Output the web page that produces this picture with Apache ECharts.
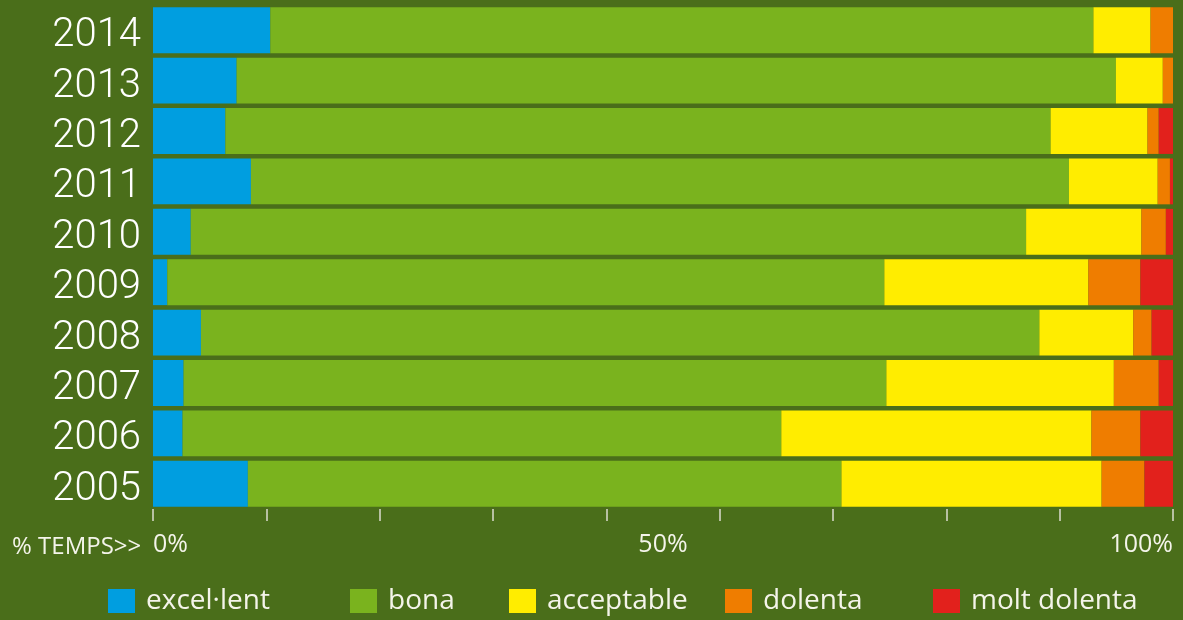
<!DOCTYPE html>
<html>
<head>
<meta charset="utf-8">
<script src="https://cdn.jsdelivr.net/npm/echarts@6/dist/echarts.min.js"></script>
<style>
  html, body { margin: 0; padding: 0; background: #4a6e1a; }
  #chart { width: 1183px; height: 620px; }
</style>
</head>
<body>
<div id="chart"></div>
<script>
// anys, de baix a dalt
const years = ['2005', '2006', '2007', '2008', '2009', '2010', '2011', '2012', '2013', '2014']

// % del temps per categoria
const excellent = [9.3, 2.9, 3.0, 4.7, 1.4, 3.7, 9.6, 7.1, 8.2, 11.5]
const bona = [58.2, 58.7, 68.9, 82.2, 70.3, 81.9, 80.2, 80.9, 86.2, 80.7]
const acceptable = [25.5, 30.4, 22.3, 9.2, 20.0, 11.3, 8.7, 9.5, 4.6, 5.6]
const dolenta = [4.2, 4.8, 4.4, 1.8, 5.1, 2.4, 1.2, 1.1, 1.0, 2.2]
const moltDolenta = [2.8, 3.2, 1.4, 2.1, 3.2, 0.7, 0.3, 1.4, 0, 0]

const seriesNames = ['excel·lent', 'bona', 'acceptable', 'dolenta', 'molt dolenta']
const seriesData = [excellent, bona, acceptable, dolenta, moltDolenta]
const colors = ['#009ee0', '#7ab31e', '#ffed00', '#ef7d00', '#e2211c']

const legendLeft = [108, 350, 509, 725, 933]

const txt = '#f4f4ea'

const chart = echarts.init(document.getElementById('chart'), null, { renderer: 'canvas' })

const option = {
  backgroundColor: '#4a6e1a',
  animation: false,
  grid: { left: 153, right: 10, top: 5, bottom: 111 },
  legend: seriesNames.map((name, i) => ({
    data: [name],
    left: legendLeft[i],
    top: 587,
    padding: 0,
    icon: 'rect',
    itemWidth: 27,
    itemHeight: 24,
    itemGap: 0,
    selectedMode: false,
    textStyle: {
      color: txt,
      fontFamily: 'Open Sans',
      fontSize: 28,
      padding: [0, 0, 0, 6]
    }
  })),
  xAxis: [
    {
      type: 'value',
      min: 0,
      max: 100,
      interval: 100 / 9,
      axisLine: { show: false },
      axisTick: { show: true, length: 12, lineStyle: { color: '#dcdcd0', width: 1.5 } },
      axisLabel: { show: false },
      splitLine: { show: false }
    },
    {
      type: 'value',
      min: 0,
      max: 100,
      interval: 50,
      position: 'bottom',
      axisLine: { show: false },
      axisTick: { show: false },
      splitLine: { show: false },
      axisLabel: {
        color: txt,
        fontFamily: 'Open Sans',
        fontSize: 25,
        margin: 23,
        alignMinLabel: 'left',
        alignMaxLabel: 'right',
        formatter: '{value}%'
      }
    }
  ],
  yAxis: {
    type: 'category',
    data: years,
    axisLine: { show: false },
    axisTick: { show: false },
    axisLabel: {
      interval: 0,
      margin: 12,
      formatter: '{y|{value}}',
      rich: {
        y: {
          color: '#ffffff',
          fontFamily: 'Roboto',
          fontWeight: 300,
          fontSize: 40,
          lineHeight: 40,
          padding: [12, 0, 0, 0]
        }
      }
    }
  },
  graphic: [
    {
      type: 'text',
      left: 12,
      top: 535,
      style: {
        text: '% TEMPS>>',
        fill: txt,
        font: '24px "Open Sans"'
      }
    }
  ],
  series: seriesNames.map((name, i) => ({
    name: name,
    type: 'bar',
    stack: 'total',
    barCategoryGap: '9%',
    itemStyle: { color: colors[i] },
    data: seriesData[i]
  }))
}

chart.setOption(option)
</script>
</body>
</html>
